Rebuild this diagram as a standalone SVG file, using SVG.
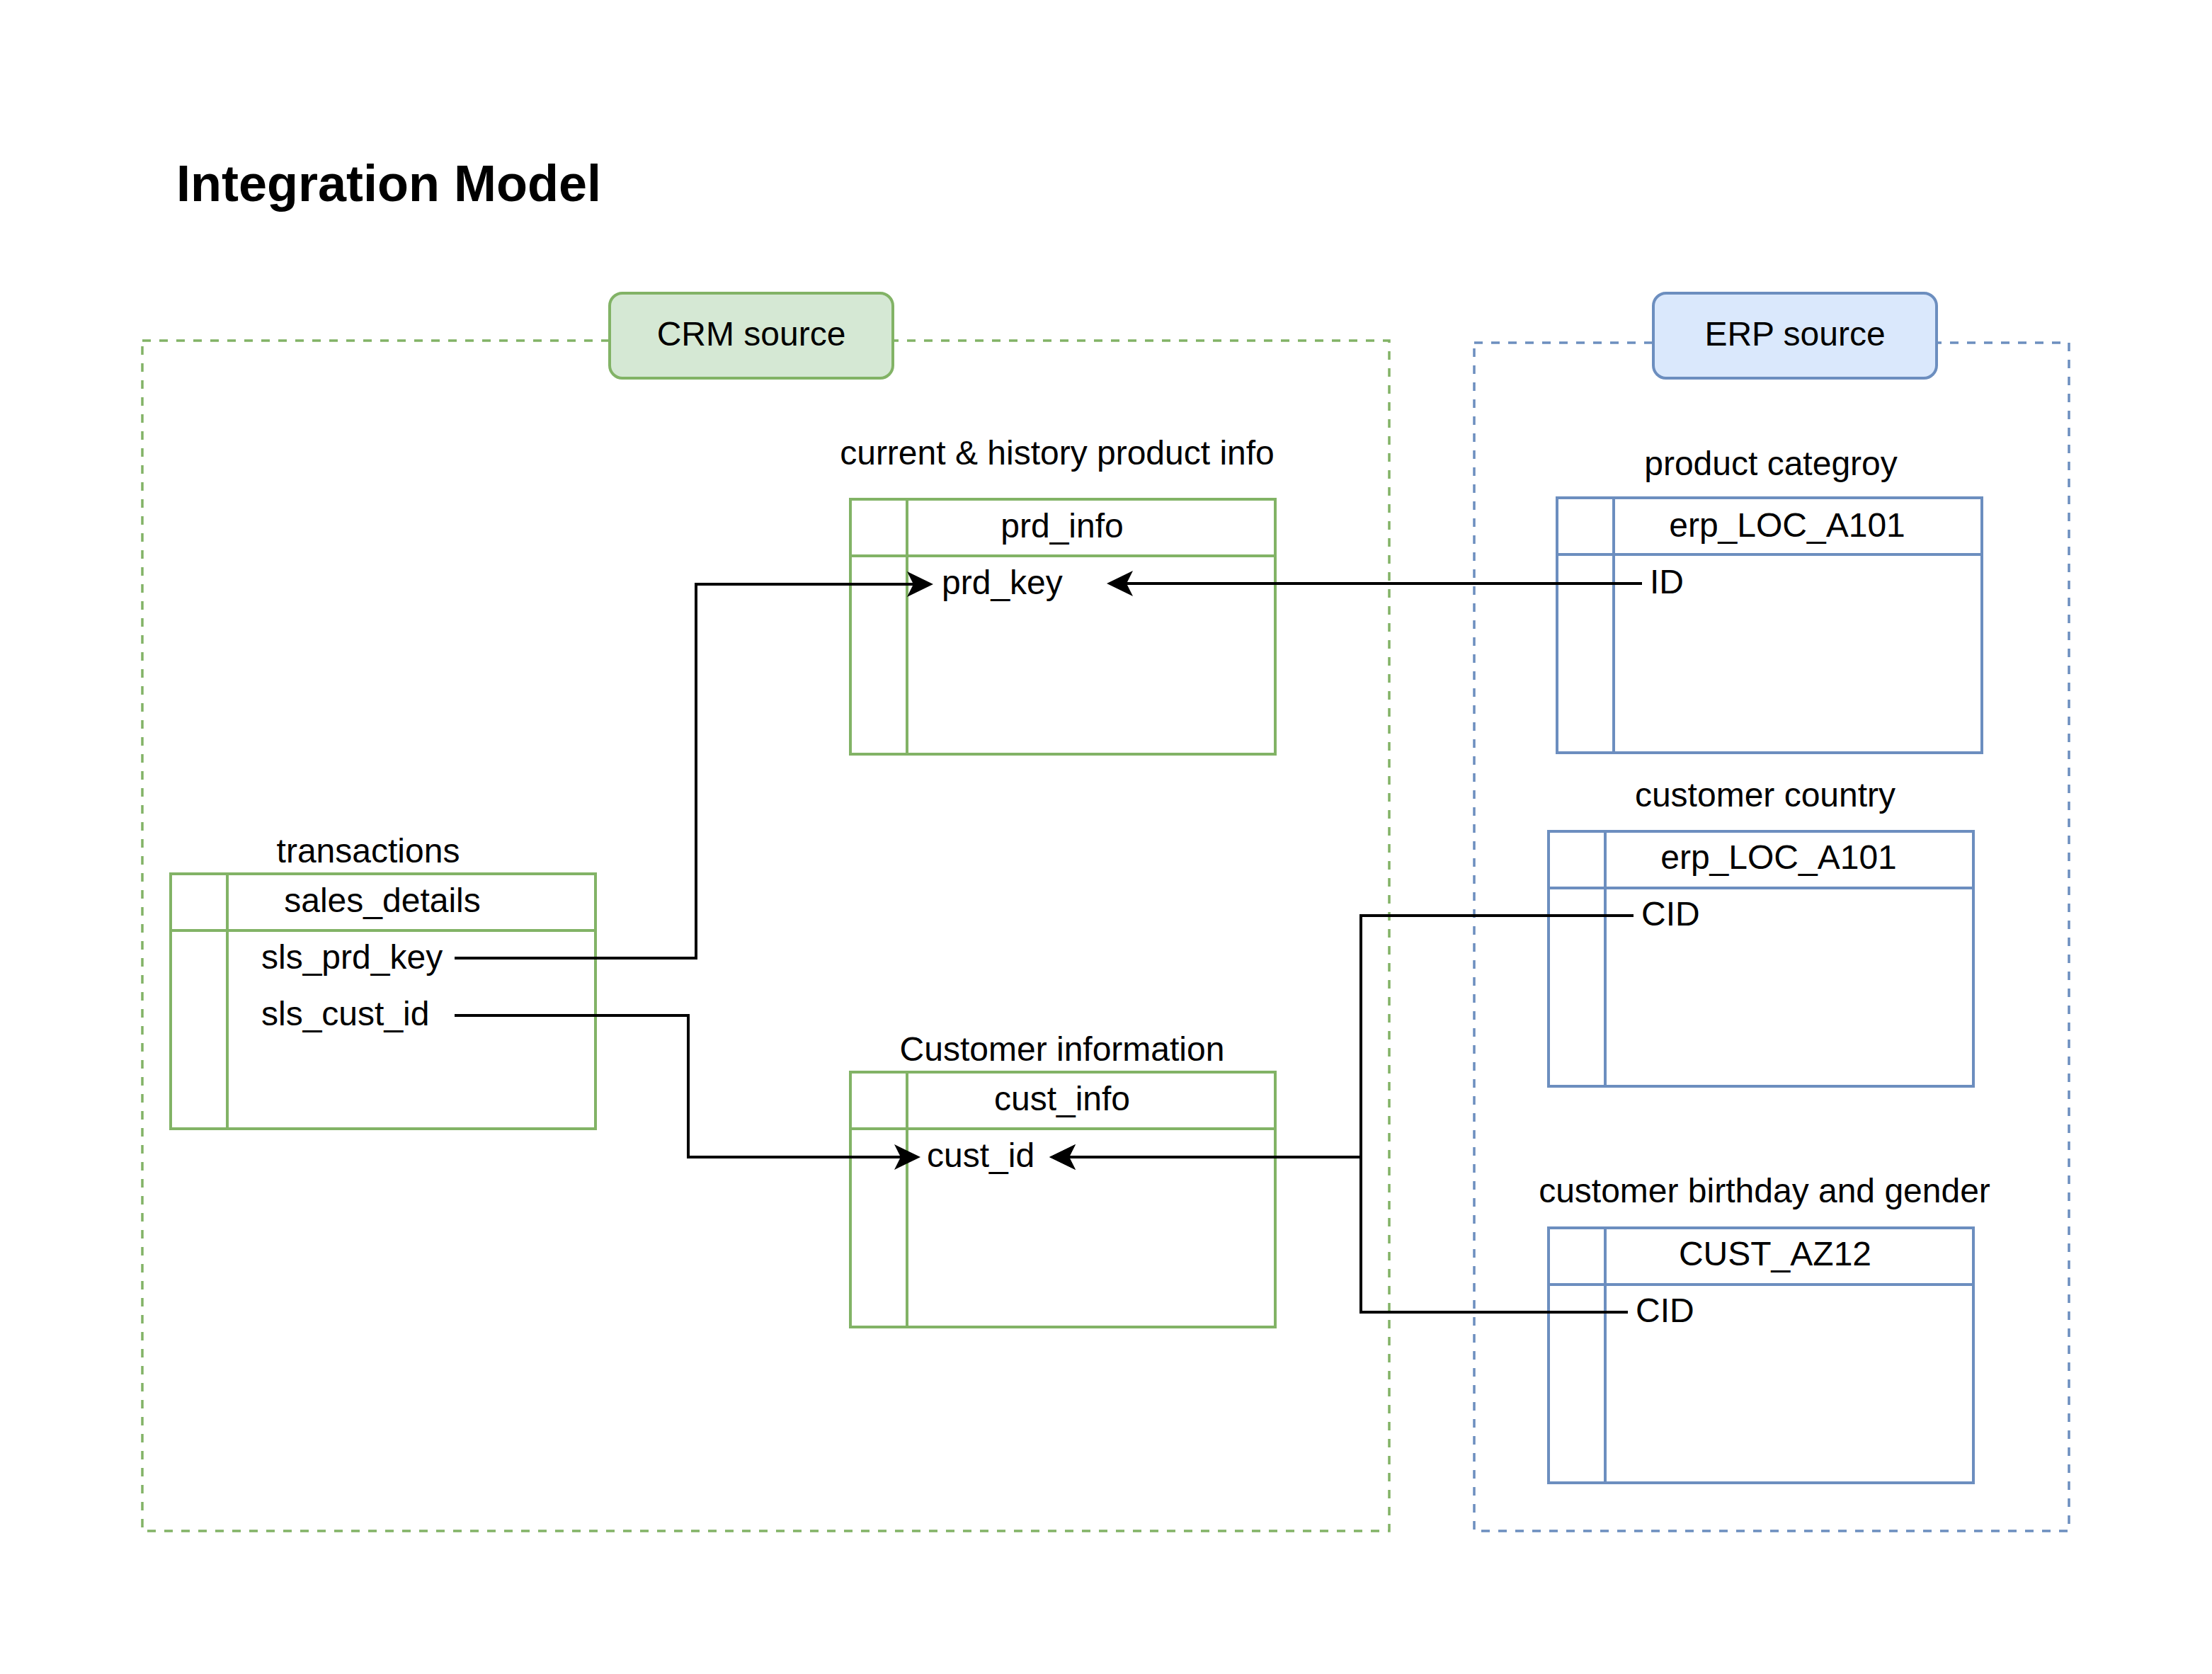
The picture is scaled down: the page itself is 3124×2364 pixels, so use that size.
<svg xmlns="http://www.w3.org/2000/svg" width="3124" height="2364" viewBox="0 0 3124 2364">
<style>
text{font-family:"Liberation Sans",Arial,Helvetica,sans-serif;font-size:48px;fill:#000}
.title{font-size:72px;font-weight:bold}
.c{text-anchor:middle}
.gcont{fill:none;stroke:#82b366;stroke-width:3.5;stroke-dasharray:12 12}
.bcont{fill:none;stroke:#6c8ebf;stroke-width:3.5;stroke-dasharray:12 12}
.glabel{fill:#d5e8d4;stroke:#82b366;stroke-width:4}
.blabel{fill:#dae8fc;stroke:#6c8ebf;stroke-width:4}
.gt{fill:#fff;stroke:#82b366;stroke-width:4}
.gl{stroke:#82b366;stroke-width:4;fill:none}
.bt{fill:#fff;stroke:#6c8ebf;stroke-width:4}
.bl{stroke:#6c8ebf;stroke-width:4;fill:none}
.edge{fill:none;stroke:#000;stroke-width:4;marker-end:url(#arrow)}
</style>
<defs>
<marker id="arrow" markerUnits="userSpaceOnUse" viewBox="0 0 37 36" refX="9" refY="18" markerWidth="37" markerHeight="36" orient="auto">
<path d="M37,18 L0,0 L9,18 L0,36 Z" fill="#000"/>
</marker>
</defs>
<rect width="3124" height="2364" fill="#fff"/>
<text class="title" x="249" y="284">Integration Model</text>

<g id="crm-container">
<rect class="gcont" x="201" y="481" width="1761" height="1681"/>
<rect class="glabel" x="861" y="414" width="400" height="120" rx="18"/>
<text class="c" x="1061" y="488">CRM source</text>
</g>

<g id="erp-container">
<rect class="bcont" x="2082" y="484" width="840" height="1678"/>
<rect class="blabel" x="2335" y="414" width="400" height="120" rx="18"/>
<text class="c" x="2535" y="488">ERP source</text>
</g>

<g id="prd_info">
<text class="c" x="1493" y="656">current &amp; history product info</text>
<rect class="gt" x="1201" y="705" width="600" height="360"/>
<path class="gl" d="M1201 785 H1801 M1281 705 V1065"/>
<text class="c" x="1500" y="759">prd_info</text>
<text x="1330" y="839">prd_key</text>
</g>

<g id="sales_details">
<text class="c" x="520" y="1218">transactions</text>
<rect class="gt" x="241" y="1234" width="600" height="360"/>
<path class="gl" d="M241 1314 H841 M321 1234 V1594"/>
<text class="c" x="540" y="1288">sales_details</text>
<text x="369" y="1368">sls_prd_key</text>
<text x="369" y="1448">sls_cust_id</text>
</g>

<g id="cust_info">
<text class="c" x="1500" y="1498">Customer information</text>
<rect class="gt" x="1201" y="1514" width="600" height="360"/>
<path class="gl" d="M1201 1594 H1801 M1281 1514 V1874"/>
<text class="c" x="1500" y="1568">cust_info</text>
<text x="1309" y="1648">cust_id</text>
</g>

<g id="erp_loc_a101_product">
<text class="c" x="2501" y="671">product categroy</text>
<rect class="bt" x="2199" y="703" width="600" height="360"/>
<path class="bl" d="M2199 783 H2799 M2279 703 V1063"/>
<text class="c" x="2524" y="758">erp_LOC_A101</text>
<text x="2330" y="838">ID</text>
</g>

<g id="erp_loc_a101_country">
<text class="c" x="2493" y="1139">customer country</text>
<rect class="bt" x="2187" y="1174" width="600" height="360"/>
<path class="bl" d="M2187 1254 H2787 M2267 1174 V1534"/>
<text class="c" x="2512" y="1227">erp_LOC_A101</text>
<text x="2318" y="1307">CID</text>
</g>

<g id="cust_az12">
<text class="c" x="2492" y="1698">customer birthday and gender</text>
<rect class="bt" x="2187" y="1734" width="600" height="360"/>
<path class="bl" d="M2187 1814 H2787 M2267 1734 V2094"/>
<text class="c" x="2507" y="1787">CUST_AZ12</text>
<text x="2310" y="1867">CID</text>
</g>

<g id="connectors">
<path class="edge" d="M642 1353 H983 V825 H1290"/>
<path class="edge" d="M2319 824 H1591"/>
<path class="edge" d="M642 1434 H972 V1634 H1272"/>
<path class="edge" d="M2307 1293 H1922 V1634 H1510"/>
<path class="edge" d="M2299 1853 H1922 V1634 H1510"/>
</g>
</svg>
